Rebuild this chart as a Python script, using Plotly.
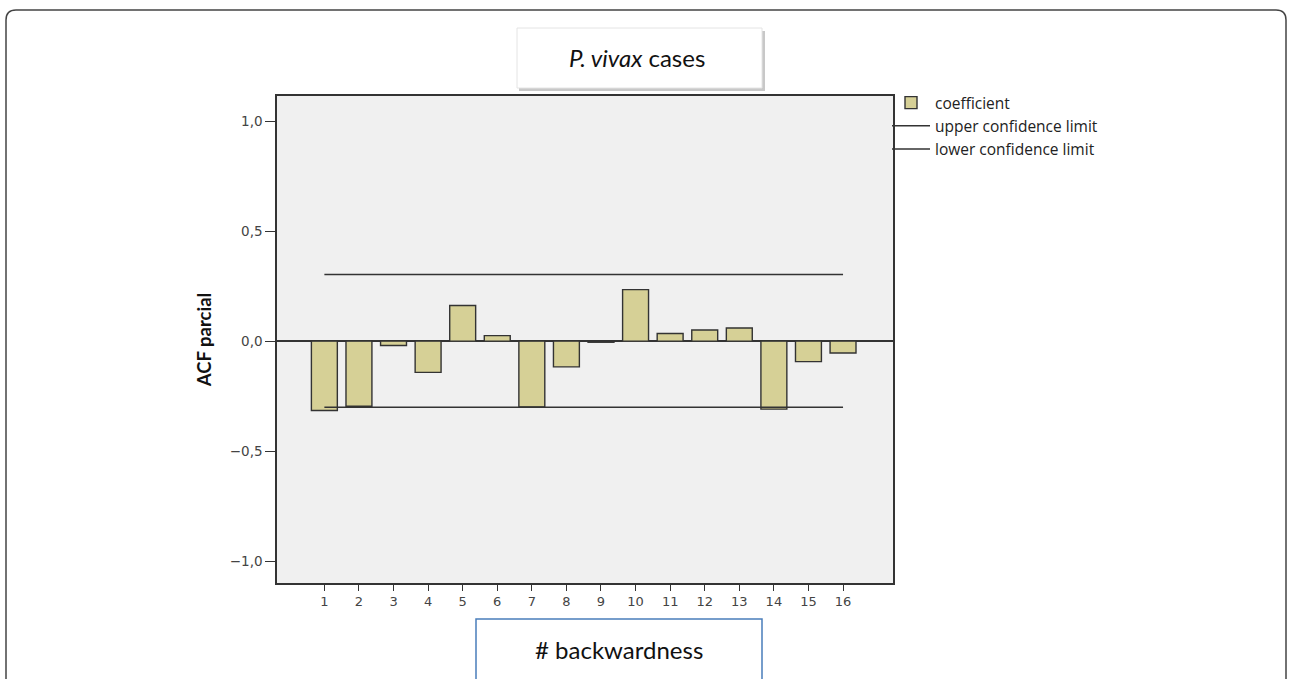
import plotly.graph_objects as go

# ---- data ----
lags = list(range(1, 17))
coefficient = [-0.315, -0.296, -0.020, -0.142, 0.162, 0.025, -0.299, -0.117,
               -0.005, 0.234, 0.035, 0.051, 0.060, -0.309, -0.093, -0.054]
limit_lags = [1, 16]
upper_limit = [0.303, 0.303]
lower_limit = [-0.300, -0.300]
y_ticks = [-1.0, -0.5, 0.0, 0.5, 1.0]

# ---- layout geometry (pixels) ----
W, H = 1289, 679
L, R, T, B = 277, 893, 96, 583
pw, ph = R - L, B - T


def px(x):
    return (x - L) / pw


def py(y):
    return (B - y) / ph


fig = go.Figure()
fig.add_trace(go.Bar(
    x=lags, y=coefficient, width=0.75, name="coefficient",
    marker=dict(color="#d6d096", line=dict(color="#333333", width=1.4)),
    legendgroup="a",
))
fig.add_trace(go.Scatter(
    x=limit_lags, y=upper_limit, mode="lines", name="upper confidence limit",
    line=dict(color="#333333", width=1.5), legendgroup="b",
))
fig.add_trace(go.Scatter(
    x=limit_lags, y=lower_limit, mode="lines", name="lower confidence limit",
    line=dict(color="#333333", width=1.5), legendgroup="c",
))

shapes = []
# outer rounded frame
r = 10
x0, x1 = px(6), px(1286)
y0t, ybot = py(10), py(700)
rx, ry = r / pw, r / ph
path = (f"M {x0},{ybot} L {x0},{y0t - ry} Q {x0},{y0t} {x0 + rx},{y0t} "
        f"L {x1 - rx},{y0t} Q {x1},{y0t} {x1},{y0t - ry} L {x1},{ybot}")
shapes.append(dict(type="path", xref="paper", yref="paper", path=path,
                   line=dict(color="#444444", width=1.5)))
# title box shadow + box
shapes.append(dict(type="rect", xref="paper", yref="paper",
                   x0=px(519), x1=px(765), y0=py(91), y1=py(31),
                   fillcolor="#c8c8c8", line=dict(width=0)))
shapes.append(dict(type="rect", xref="paper", yref="paper",
                   x0=px(517), x1=px(762), y0=py(88), y1=py(28),
                   fillcolor="white", line=dict(color="#e4e4e4", width=1)))
# x title box
shapes.append(dict(type="rect", xref="paper", yref="paper",
                   x0=px(476), x1=px(762), y0=py(700), y1=py(619),
                   fillcolor="white", line=dict(color="#4a7ebb", width=1.5)))

annotations = [
    dict(text="<i>P. vivax</i> cases", xref="paper", yref="paper",
         x=px(637), y=py(57), xanchor="center", yanchor="middle",
         showarrow=False,
         font=dict(family="Lato", size=24, color="#111111")),
    dict(text="# backwardness", xref="paper", yref="paper",
         x=px(619), y=py(649), xanchor="center", yanchor="middle",
         showarrow=False,
         font=dict(family="Lato", size=24, color="#111111")),
]

fig.update_layout(
    width=W, height=H,
    margin=dict(l=L, r=W - R, t=T, b=H - B, pad=0),
    paper_bgcolor="white", plot_bgcolor="#f0f0f0",
    separators=",.",
    shapes=shapes, annotations=annotations,
    showlegend=True,
    legend=dict(x=px(887), y=py(86), xanchor="left", yanchor="top",
                bgcolor="rgba(0,0,0,0)", borderwidth=0,
                traceorder="grouped", tracegroupgap=0, itemwidth=38,
                font=dict(family="Open Sans", size=15.5, color="#222222")),
    xaxis=dict(range=[-0.37, 17.445], tickvals=lags, ticks="outside",
               ticklen=6, tickcolor="#333333", showgrid=False, zeroline=False,
               showline=True, linecolor="#333333", linewidth=1.5, mirror=True,
               tickfont=dict(family="DejaVu Sans", size=13, color="#444444")),
    yaxis=dict(range=[-1.099, 1.114], tickvals=y_ticks, tickformat=".1f",
               ticks="outside", ticklen=10, tickcolor="#333333", showgrid=False,
               zeroline=True, zerolinecolor="#333333", zerolinewidth=1.5,
               showline=True, linecolor="#333333", linewidth=1.5, mirror=True,
               tickfont=dict(family="DejaVu Sans", size=13.5, color="#444444"),
               title=dict(text="<b>ACF parcial</b>", standoff=13,
                          font=dict(family="Lato", size=18.5, color="#111111"))),
)

fig.write_html("out.html", config={"displayModeBar": False},
               post_script="document.body.style.margin='0px';")
